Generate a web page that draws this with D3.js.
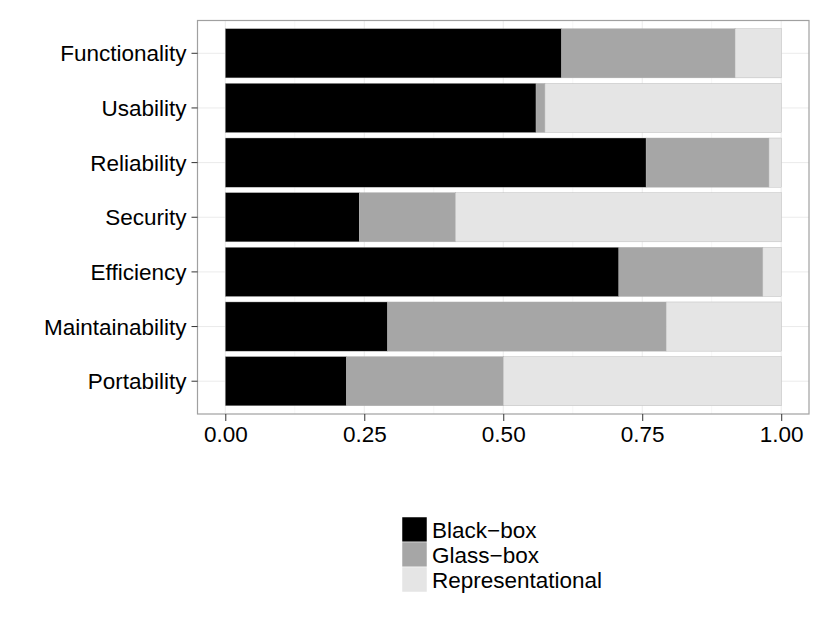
<!DOCTYPE html>
<html>
<head>
<meta charset="utf-8">
<script src="https://cdn.jsdelivr.net/npm/d3@7"></script>
<style>
  body { margin: 0; background: #fff; }
  text { font-family: "Liberation Sans", Arial, sans-serif; }
</style>
</head>
<body>
<svg id="chart" width="830" height="623"></svg>
<script>
// categories, top to bottom
let categories = ["Functionality", "Usability", "Reliability", "Security",
  "Efficiency", "Maintainability", "Portability"];
// proportions
let blackBox = [0.605, 0.559, 0.757, 0.241, 0.708, 0.292, 0.218];
let glassBox = [0.312, 0.016, 0.221, 0.173, 0.259, 0.501, 0.282];
let representational = [0.083, 0.425, 0.022, 0.586, 0.033, 0.207, 0.500];

let seriesNames = ["Black\u2212box", "Glass\u2212box", "Representational"];
let seriesKeys = ["black", "glass", "repr"];
let seriesColors = ["#000000", "#a6a6a6", "#e5e5e5"];
let xTicks = [0, 0.25, 0.5, 0.75, 1];
let xMinor = [0.125, 0.375, 0.625, 0.875];

// table for d3.stack
let rows = categories.map(function (c, i)
{
  return { cat: c, black: blackBox[i], glass: glassBox[i], repr: representational[i] };
});

let svg = d3.select("#chart");
let panel = { left: 197.5, right: 809, top: 20.5, bottom: 414 };

// ggplot style expansion: 5% on continuous, 0.6 units on discrete
let x = d3.scaleLinear().domain([-0.05, 1.05]).range([panel.left, panel.right]);
let y = d3.scaleBand().domain(categories)
  .range([panel.top, panel.bottom])
  .paddingInner(0.1).paddingOuter(0.15);

// panel background and grid
svg.append("rect")
  .attr("x", panel.left).attr("y", panel.top)
  .attr("width", panel.right - panel.left).attr("height", panel.bottom - panel.top)
  .style("fill", "#fff");

svg.selectAll("line.minor").data(xMinor).enter().append("line")
  .attr("class", "minor")
  .attr("x1", function (d) { return x(d); })
  .attr("x2", function (d) { return x(d); })
  .attr("y1", panel.top).attr("y2", panel.bottom)
  .style("stroke", "#f7f7f7").style("stroke-width", 1);

svg.selectAll("line.vmajor").data(xTicks).enter().append("line")
  .attr("class", "vmajor")
  .attr("x1", function (d) { return x(d); })
  .attr("x2", function (d) { return x(d); })
  .attr("y1", panel.top).attr("y2", panel.bottom)
  .style("stroke", "#ebebeb").style("stroke-width", 1);

svg.selectAll("line.hmajor").data(categories).enter().append("line")
  .attr("class", "hmajor")
  .attr("x1", panel.left).attr("x2", panel.right)
  .attr("y1", function (d) { return y(d) + y.bandwidth() / 2; })
  .attr("y2", function (d) { return y(d) + y.bandwidth() / 2; })
  .style("stroke", "#ebebeb").style("stroke-width", 1);

// stacked bars
let stacked = d3.stack().keys(seriesKeys)(rows);
stacked.forEach(function (layer, k)
{
  svg.append("g").selectAll("rect").data(layer).enter().append("rect")
    .attr("x", function (d) { return x(d[0]); })
    .attr("width", function (d) { return x(d[1]) - x(d[0]); })
    .attr("y", function (d) { return y(d.data.cat); })
    .attr("height", y.bandwidth())
    .style("fill", seriesColors[k])
    .style("stroke", "#b0b0b0")
    .style("stroke-width", 0.4);
});

// panel border
svg.append("rect")
  .attr("x", panel.left).attr("y", panel.top)
  .attr("width", panel.right - panel.left).attr("height", panel.bottom - panel.top)
  .style("fill", "none").style("stroke", "#a0a0a0").style("stroke-width", 1.2);

// y axis
let yAxis = svg.append("g")
  .attr("transform", "translate(" + panel.left + ",0)")
  .call(d3.axisLeft(y).tickSize(6).tickPadding(5));
yAxis.select(".domain").remove();
yAxis.selectAll(".tick line").style("stroke", "#333").style("stroke-width", 1);
yAxis.selectAll(".tick text")
  .style("font-size", "22.5px").style("fill", "#000")
  .attr("dy", "0.36em");

// x axis
let xAxis = svg.append("g")
  .attr("transform", "translate(0," + panel.bottom + ")")
  .call(d3.axisBottom(x).tickValues(xTicks).tickFormat(d3.format(".2f"))
    .tickSize(7).tickPadding(5));
xAxis.select(".domain").remove();
xAxis.selectAll(".tick line").style("stroke", "#333").style("stroke-width", 1);
xAxis.selectAll(".tick text")
  .style("font-size", "22.5px").style("fill", "#000");

// legend
let legend = svg.append("g").attr("transform", "translate(402,517)");
let keySize = 25;
seriesNames.forEach(function (name, i)
{
  legend.append("rect")
    .attr("x", 0).attr("y", i * keySize)
    .attr("width", keySize).attr("height", keySize)
    .style("fill", seriesColors[i])
    .style("stroke", "#fff").style("stroke-width", 0.5);
  legend.append("text")
    .attr("x", keySize + 5).attr("y", i * keySize + keySize / 2)
    .attr("dy", "0.36em")
    .style("font-size", "22.5px")
    .text(name);
});
</script>
</body>
</html>
